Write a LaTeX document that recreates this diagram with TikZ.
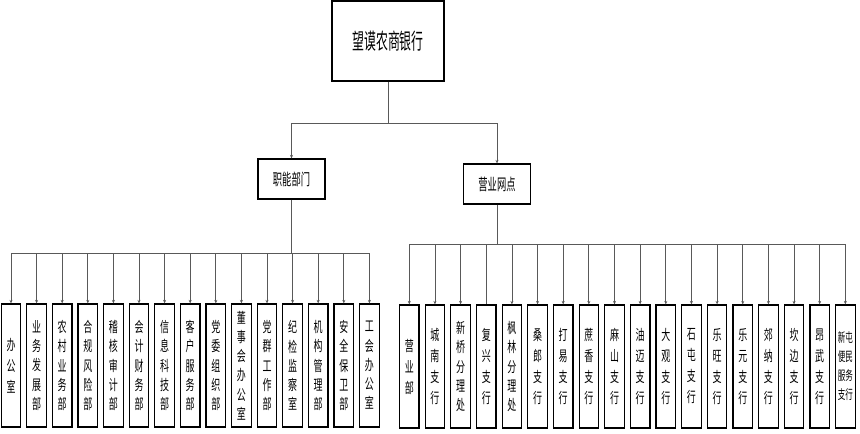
\documentclass[tikz,border=0pt]{standalone}
\usepackage{fontspec}
\usetikzlibrary{arrows.meta}
\newfontfamily\cjkT[FakeStretch=0.54]{Noto Sans CJK SC}
\newfontfamily\cjkM[FakeStretch=0.58]{Noto Sans CJK SC}
\newfontfamily\cjkS[FakeStretch=0.62]{Noto Sans CJK SC}
\newfontfamily\cjkX[FakeStretch=0.58]{Noto Sans CJK SC}
\tikzset{
  box/.style={draw=black, line width=1.2pt, fill=white, inner sep=0pt, align=center},
  topbox/.style={box, minimum width=112pt, minimum height=80pt, font=\cjkT\fontsize{22}{24}\selectfont},
  midbox/.style={box, minimum width=67pt, minimum height=40pt, font=\cjkM\fontsize{16}{18}\selectfont},
  vbox/.style={box, minimum width=19.5pt, minimum height=123pt},
  vA/.style={vbox, font=\cjkS\fontsize{14.5}{21}\selectfont},
  vB/.style={vbox, font=\cjkS\fontsize{14.5}{19.2}\selectfont},
  vC/.style={vbox, font=\cjkX\fontsize{13}{19}\selectfont},
  conn/.style={draw=black!65, line width=0.8pt},
  arr/.style={conn, -{Stealth[length=3.5pt,width=3pt]}}
}
\begin{document}
\begin{tikzpicture}[x=1pt,y=-1pt]
\useasboundingbox (0,0) rectangle (860,434);
\node[topbox] (top) at (388,41) {望谟农商银行};
\node[midbox] (jz) at (291.5,179) {职能部门};
\node[midbox] (yy) at (497,184) {营业网点};

% left group
\node[vA] (l1) at (11,365.5) {办\\公\\室};
\node[vB] (l2) at (36.6,365.5) {业\\务\\发\\展\\部};
\node[vB] (l3) at (62.2,365.5) {农\\村\\业\\务\\部};
\node[vB] (l4) at (87.8,365.5) {合\\规\\风\\险\\部};
\node[vB] (l5) at (113.4,365.5) {稽\\核\\审\\计\\部};
\node[vB] (l6) at (139,365.5) {会\\计\\财\\务\\部};
\node[vB] (l7) at (164.6,365.5) {信\\息\\科\\技\\部};
\node[vB] (l8) at (190.2,365.5) {客\\户\\服\\务\\部};
\node[vB] (l9) at (215.8,365.5) {党\\委\\组\\织\\部};
\node[vB] (l10) at (241.4,365.5) {董\\事\\会\\办\\公\\室};
\node[vB] (l11) at (267,365.5) {党\\群\\工\\作\\部};
\node[vB] (l12) at (292.6,365.5) {纪\\检\\监\\察\\室};
\node[vB] (l13) at (318.2,365.5) {机\\构\\管\\理\\部};
\node[vB] (l14) at (343.8,365.5) {安\\全\\保\\卫\\部};
\node[vB] (l15) at (369.4,365.5) {工\\会\\办\\公\\室};

% right group
\node[vA] (r1) at (409.3,366.5) {营\\业\\部};
\node[vA] (r2) at (434.95,366.5) {城\\南\\支\\行};
\node[vB] (r3) at (460.6,366.5) {新\\桥\\分\\理\\处};
\node[vA] (r4) at (486.25,366.5) {复\\兴\\支\\行};
\node[vB] (r5) at (511.9,366.5) {枫\\林\\分\\理\\处};
\node[vA] (r6) at (537.55,366.5) {桑\\郎\\支\\行};
\node[vA] (r7) at (563.2,366.5) {打\\易\\支\\行};
\node[vA] (r8) at (588.85,366.5) {蔗\\香\\支\\行};
\node[vA] (r9) at (614.5,366.5) {麻\\山\\支\\行};
\node[vA] (r10) at (640.15,366.5) {油\\迈\\支\\行};
\node[vA] (r11) at (665.8,366.5) {大\\观\\支\\行};
\node[vA] (r12) at (691.45,366.5) {石\\屯\\支\\行};
\node[vA] (r13) at (717.1,366.5) {乐\\旺\\支\\行};
\node[vA] (r14) at (742.75,366.5) {乐\\元\\支\\行};
\node[vA] (r15) at (768.4,366.5) {郊\\纳\\支\\行};
\node[vA] (r16) at (794.05,366.5) {坎\\边\\支\\行};
\node[vA] (r17) at (819.7,366.5) {昂\\武\\支\\行};
\node[vC] (r18) at (845.35,366.5) {新屯\\便民\\服务\\支行};

% connectors
\coordinate (bT) at (388,123);
\coordinate (bL) at (291.5,253.3);
\coordinate (bR) at (497,244.5);
\draw[conn] (top.south) -- (bT);
\draw[arr] (bT) -| (jz.north);
\draw[arr] (bT) -| (yy.north);
\draw[conn] (jz.south) -- (bL);
\foreach \i in {1,...,15} { \draw[arr] (bL) -| (l\i.north); }
\draw[conn] (yy.south) -- (bR);
\foreach \i in {1,2,3,5,6,7,8,9,10,11,12,13,14,15,16,17,18} { \draw[arr] (bR) -| (r\i.north); }
\draw[conn] (bR) -| (r4.north);
\end{tikzpicture}
\end{document}
